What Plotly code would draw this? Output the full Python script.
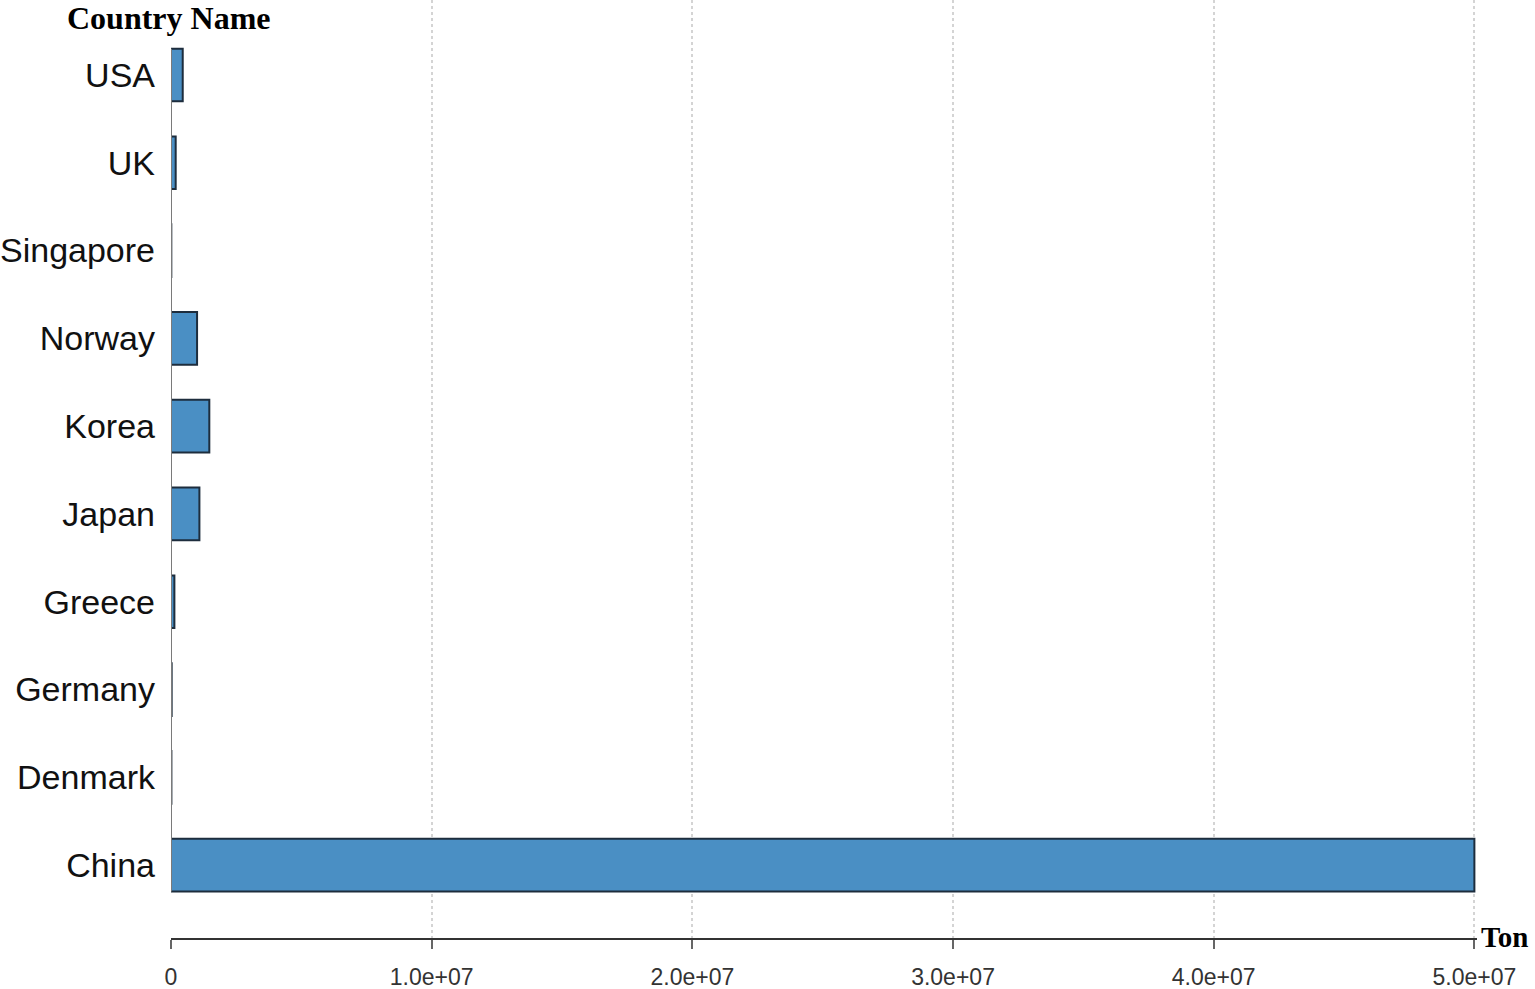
import plotly.graph_objects as go

# Tonnage per country (bottom to top, as drawn)
countries = ["China", "Denmark", "Germany", "Greece", "Japan",
             "Korea", "Norway", "Singapore", "UK", "USA"]
tonnage = [5.0e7, 1.5e4, 2.5e4, 1.3e5, 1.09e6,
           1.47e6, 1.0e6, 1.2e4, 1.8e5, 4.5e5]

x_tickvals = [0, 1.0e7, 2.0e7, 3.0e7, 4.0e7, 5.0e7]
x_ticktext = ["0", "1.0e+07", "2.0e+07", "3.0e+07", "4.0e+07", "5.0e+07"]

fig = go.Figure()

fig.add_trace(
    go.Bar(
        x=tonnage,
        y=countries,
        orientation="h",
        marker=dict(color="#4a8fc4", line=dict(color="#1d2d3d", width=2)),
        showlegend=False,
    )
)

# solid y axis line only across the bar span
fig.add_shape(
    type="line", xref="x", yref="y",
    x0=0, x1=0, y0=-0.3, y1=len(countries) - 0.7,
    line=dict(color="#7a7a7a", width=2),
)

serif = "Liberation Serif, Times New Roman, serif"
fig.add_annotation(
    text="<b>Country Name</b>", xref="paper", yref="paper",
    x=(65 - 171) / 1306, y=1.0, xanchor="left", yanchor="top", yshift=2,
    showarrow=False, font=dict(family=serif, size=32, color="#000"),
)
fig.add_annotation(
    text="<b>Ton</b>", xref="paper", yref="paper",
    x=1.0, xshift=2, y=0.0, yshift=1, xanchor="left", yanchor="middle",
    showarrow=False, font=dict(family=serif, size=29, color="#000"),
)

fig.update_layout(
    width=1535,
    height=989,
    margin=dict(l=171, r=58, t=0, b=51),
    paper_bgcolor="white",
    plot_bgcolor="white",
    bargap=0.4,
    font=dict(family="Liberation Sans, Arial, sans-serif", color="#111"),
)

fig.update_xaxes(
    range=[0, 5.01e7],
    automargin=False,
    tickvals=x_tickvals,
    ticktext=x_ticktext,
    showgrid=True,
    gridcolor="#d4d4d4",
    griddash="dot",
    gridwidth=1.5,
    zeroline=False,
    showline=True,
    linecolor="#333333",
    linewidth=2,
    ticks="outside",
    ticklen=9,
    tickcolor="#666666",
    tickwidth=2,
    ticklabelstandoff=8,
    tickfont=dict(size=23, color="#333333"),
)

fig.update_yaxes(
    type="category",
    automargin=False,
    categoryorder="array",
    categoryarray=countries,
    range=[-0.83, 9.854],
    showgrid=False,
    zeroline=False,
    showline=False,
    ticks="",
    ticklabelstandoff=15,
    tickfont=dict(size=34, color="#111111"),
)

fig.write_html(
    "out.html",
    config={"displayModeBar": False},
    post_script="document.body.style.margin='0';",
)
